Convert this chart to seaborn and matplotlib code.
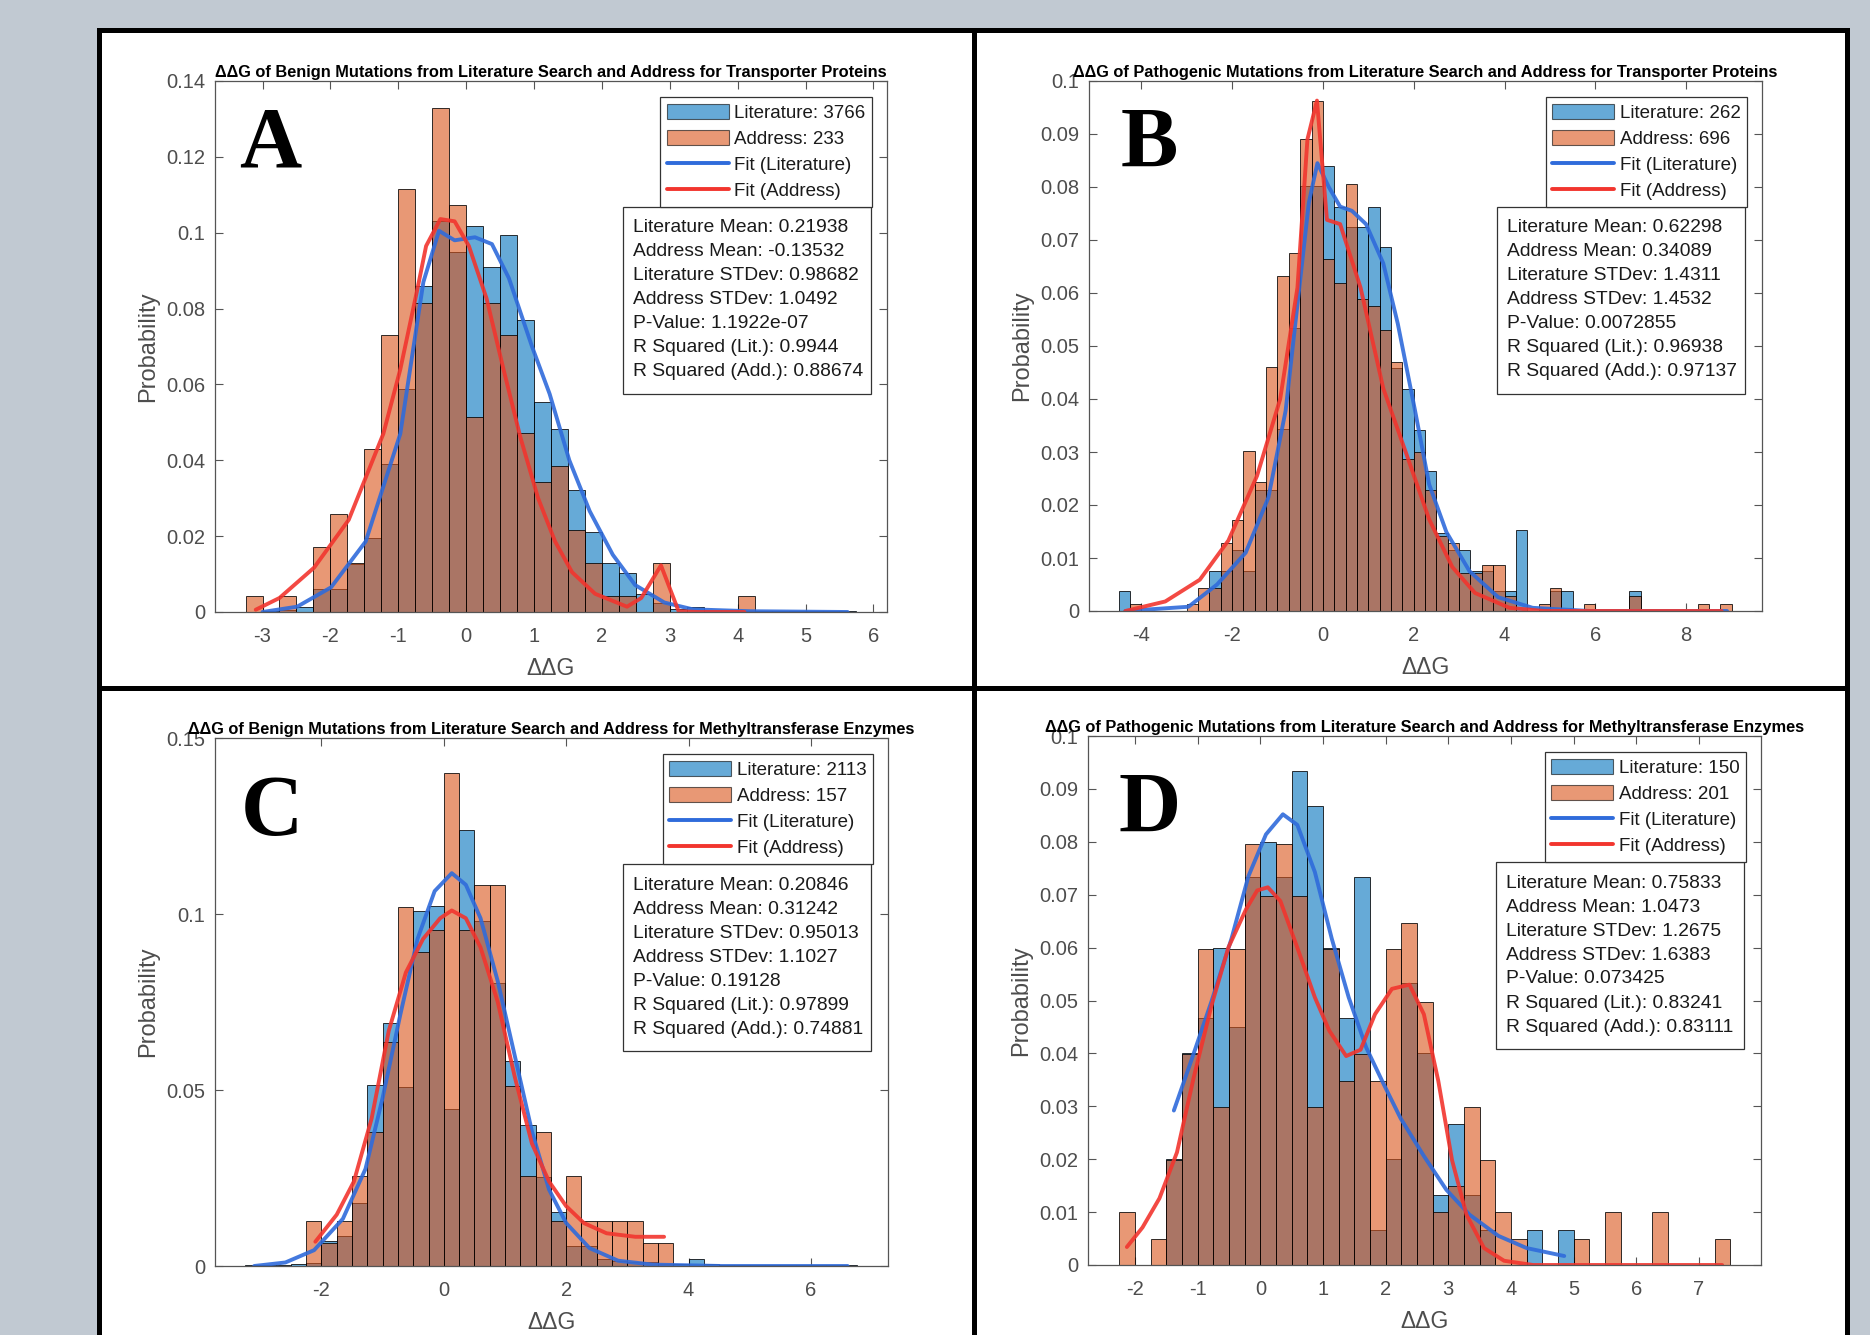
import numpy as np
import pandas as pd
import matplotlib
matplotlib.use("Agg")
import matplotlib.pyplot as plt
import seaborn as sns
from matplotlib.patches import Rectangle, Patch
from matplotlib.lines import Line2D
from matplotlib.ticker import FuncFormatter

# ---------------- data ----------------
bin_width = 0.25

# A: benign, transporter proteins (bins start at -3.25)
a_start = -3.25
a_lit = [0, 0.0003, 0.0005, 0.0013, 0.006, 0.006, 0.0126, 0.0195, 0.039, 0.0587,
         0.086, 0.103, 0.095, 0.1017, 0.091, 0.0994, 0.077, 0.0554, 0.0483, 0.0321,
         0.021, 0.013, 0.0102, 0.0048, 0.0025, 0.0008, 0.0014, 0.0005, 0.0005, 0.0003,
         0.0003, 0.0003, 0.0003, 0.0003, 0.0003, 0.0003]
a_add = [0.0043, 0, 0.0043, 0, 0.0172, 0.0258, 0.0129, 0.0429, 0.073, 0.1116,
         0.0815, 0.133, 0.1073, 0.0515, 0.0815, 0.073, 0.0472, 0.0343, 0.0386, 0.0215,
         0.0129, 0.0043, 0.0043, 0, 0.0129, 0, 0, 0, 0, 0.0043,
         0, 0, 0, 0, 0, 0]
a_fit_lit_x = [-3.0, -2.49, -1.99, -1.48, -0.97, -0.63, -0.40, -0.17, 0.13, 0.38, 0.63,
               0.97, 1.23, 1.52, 1.82, 2.16, 2.49, 2.92, 3.34, 4.19, 5.62]
a_fit_lit_y = [0, 0.0014, 0.0065, 0.0186, 0.047, 0.087, 0.1005, 0.098, 0.0988, 0.097, 0.088,
               0.070, 0.0575, 0.040, 0.0266, 0.0151, 0.0071, 0.0025, 0.0007, 0.0002, 0]
a_fit_add_x = [-3.1, -2.75, -2.24, -1.73, -1.22, -0.97, -0.72, -0.59, -0.38, -0.17, 0.04, 0.30,
               0.55, 0.80, 1.06, 1.31, 1.56, 1.90, 2.37, 2.58, 2.87, 3.13, 3.42, 4.1]
a_fit_add_y = [0.0006, 0.0037, 0.0117, 0.0243, 0.047, 0.064, 0.085, 0.0965, 0.1036, 0.103,
               0.0965, 0.0827, 0.064, 0.046, 0.030, 0.0186, 0.0105, 0.0048, 0.0014, 0.0037,
               0.0123, 0.0002, 0, 0]

# B: pathogenic, transporter proteins (bins start at -4.5)
b_start = -4.5
b_lit = [0.0038, 0, 0, 0, 0, 0, 0, 0, 0.0076, 0.0076,
         0.0115, 0.0076, 0.0229, 0.0229, 0.0344, 0.0534, 0.0802, 0.0802, 0.084, 0.0763,
         0.0724, 0.0724, 0.0763, 0.0687, 0.0458, 0.0419, 0.0342, 0.0264, 0.0147, 0.0115,
         0.0115, 0.0076, 0.0076, 0.0038, 0.0038, 0.0153, 0, 0, 0.0038, 0.0038,
         0, 0, 0, 0, 0, 0.0038, 0, 0, 0, 0,
         0, 0, 0, 0]
b_add = [0, 0.0014, 0, 0, 0, 0, 0.0014, 0.0043, 0.0043, 0.0129,
         0.0172, 0.0302, 0.0244, 0.046, 0.0632, 0.0675, 0.0891, 0.0963, 0.0664, 0.0619,
         0.0805, 0.0588, 0.0576, 0.0531, 0.047, 0.0287, 0.030, 0.0229, 0.0141, 0.0129,
         0.0072, 0.0072, 0.0086, 0.0086, 0.0028, 0, 0, 0.0014, 0.0043, 0,
         0, 0.0014, 0, 0, 0, 0.0028, 0, 0, 0, 0,
         0, 0.0014, 0, 0.0014]
b_fit_lit_x = [-4.35, -2.96, -2.33, -1.70, -1.20, -0.82, -0.50, -0.31, -0.12, 0.13, 0.38, 0.64,
               0.95, 1.33, 1.65, 2.03, 2.34, 2.72, 3.23, 3.86, 4.62, 5.88, 8.9]
b_fit_lit_y = [0, 0.0008, 0.005, 0.011, 0.0214, 0.0378, 0.0624, 0.077, 0.0845, 0.080, 0.0763,
               0.0755, 0.073, 0.0656, 0.0542, 0.0378, 0.0239, 0.0149, 0.0075, 0.0026, 0.0006, 0, 0]
b_fit_add_x = [-4.35, -3.47, -2.71, -2.08, -1.45, -0.94, -0.56, -0.34, -0.13, 0.09, 0.38, 0.83,
               1.33, 1.84, 2.34, 2.85, 3.35, 4.11, 4.87, 8.78]
b_fit_add_y = [0, 0.0018, 0.0059, 0.0133, 0.0255, 0.040, 0.061, 0.089, 0.0963, 0.0738, 0.073,
               0.061, 0.042, 0.0296, 0.0173, 0.0083, 0.0034, 0.0006, 0, 0]

# C: benign, methyltransferase enzymes (bins start at -3.25)
c_start = -3.25
c_lit = [0.0003, 0.0003, 0.0003, 0.0005, 0.0009, 0.0071, 0.0085, 0.018, 0.0514, 0.069,
         0.0508, 0.1008, 0.1024, 0.0446, 0.124, 0.098, 0.0804, 0.0581, 0.040, 0.0253,
         0.0152, 0.0057, 0.0057, 0.0021, 0.0015, 0.001, 0.001, 0.0005, 0.0005, 0.0021,
         0.0007, 0.0003, 0.0003, 0.0003, 0.0003, 0.0003, 0.0003, 0.0003, 0.0003, 0.0003]
c_add = [0, 0, 0, 0, 0.0127, 0.0064, 0.0127, 0.0255, 0.0382, 0.0637,
         0.1019, 0.0892, 0.0955, 0.1401, 0.0955, 0.1083, 0.1083, 0.051, 0.0255, 0.0382,
         0.0127, 0.0255, 0.0127, 0.0127, 0.0127, 0.0127, 0.0064, 0.0064, 0, 0,
         0, 0, 0, 0, 0, 0, 0, 0, 0, 0]
c_fit_lit_x = [-3.1, -2.59, -2.12, -1.65, -1.28, -1.0, -0.71, -0.43, -0.15, 0.13, 0.36, 0.60,
               0.88, 1.16, 1.44, 1.72, 2.0, 2.38, 2.85, 3.41, 4.54, 6.6]
c_fit_lit_y = [0, 0.001, 0.0045, 0.0134, 0.0276, 0.0478, 0.0715, 0.0929, 0.1065, 0.1116, 0.1083,
               0.0988, 0.081, 0.0597, 0.0383, 0.0217, 0.0122, 0.0051, 0.0015, 0.0004, 0, 0]
c_fit_add_x = [-2.10, -1.75, -1.47, -1.18, -0.90, -0.62, -0.34, -0.06, 0.13, 0.36, 0.60, 0.88,
               1.16, 1.44, 1.72, 2.0, 2.29, 2.66, 3.13, 3.60]
c_fit_add_y = [0.0069, 0.0146, 0.024, 0.0419, 0.0668, 0.0834, 0.0929, 0.0988, 0.101, 0.0988,
               0.0905, 0.0751, 0.0537, 0.0348, 0.024, 0.017, 0.0122, 0.0093, 0.0083, 0.0083]

# D: pathogenic, methyltransferase enzymes (bins start at -2.25)
d_start = -2.25
d_lit = [0, 0, 0, 0.02, 0.04, 0.0467, 0.06, 0.045, 0.0733, 0.08,
         0.0733, 0.0933, 0.0867, 0.06, 0.0467, 0.0733, 0.0067, 0.02, 0.0533, 0.04,
         0.0133, 0.0267, 0.0133, 0.0067, 0, 0, 0.0067, 0, 0.0067, 0,
         0, 0, 0, 0, 0, 0, 0, 0, 0]
d_add = [0.00995, 0, 0.005, 0.0199, 0.0398, 0.0597, 0.0299, 0.0597, 0.0796, 0.0697,
         0.0796, 0.0697, 0.0299, 0.0597, 0.0348, 0.0398, 0.0348, 0.0597, 0.0647, 0.0498,
         0.00995, 0.0149, 0.0299, 0.0199, 0.00995, 0.005, 0, 0, 0, 0.005,
         0, 0.00995, 0, 0, 0.00995, 0, 0, 0, 0.005]
d_fit_lit_x = [-1.38, -1.10, -0.78, -0.46, -0.19, 0.09, 0.36, 0.59, 0.87, 1.14, 1.41, 1.69,
               1.96, 2.24, 2.61, 2.97, 3.34, 3.80, 4.25, 4.85]
d_fit_lit_y = [0.0292, 0.0387, 0.0498, 0.0617, 0.0735, 0.0814, 0.0852, 0.0832, 0.0743, 0.0617,
               0.0506, 0.0411, 0.0344, 0.0277, 0.0206, 0.0142, 0.0095, 0.0055, 0.0032, 0.0017]
d_fit_add_x = [-2.13, -1.88, -1.61, -1.33, -1.06, -0.78, -0.51, -0.23, -0.05, 0.12, 0.32, 0.59,
               0.87, 1.10, 1.37, 1.60, 1.83, 2.10, 2.38, 2.61, 2.84, 3.06, 3.29, 3.57, 3.89,
               4.35, 7.37]
d_fit_add_y = [0.0034, 0.0071, 0.0126, 0.0213, 0.0356, 0.049, 0.060, 0.0672, 0.0708, 0.0714,
               0.0688, 0.060, 0.0506, 0.0443, 0.0395, 0.0407, 0.0474, 0.0522, 0.053, 0.0474,
               0.0348, 0.0198, 0.0095, 0.0032, 0.0008, 0, 0]

titles = [
    "ΔΔG of Benign Mutations from Literature Search and Address for Transporter Proteins",
    "ΔΔG of Pathogenic Mutations from Literature Search and Address for Transporter Proteins",
    "ΔΔG of Benign Mutations from Literature Search and Address for Methyltransferase Enzymes",
    "ΔΔG of Pathogenic Mutations from Literature Search and Address for Methyltransferase Enzymes",
]
letters = ["A", "B", "C", "D"]
n_lit = [3766, 262, 2113, 150]
n_add = [233, 696, 157, 201]
stat_names = ["Literature Mean", "Address Mean", "Literature STDev", "Address STDev",
              "P-Value", "R Squared (Lit.)", "R Squared (Add.)"]
stat_values = [
    ["0.21938", "-0.13532", "0.98682", "1.0492", "1.1922e-07", "0.9944", "0.88674"],
    ["0.62298", "0.34089", "1.4311", "1.4532", "0.0072855", "0.96938", "0.97137"],
    ["0.20846", "0.31242", "0.95013", "1.1027", "0.19128", "0.97899", "0.74881"],
    ["0.75833", "1.0473", "1.2675", "1.6383", "0.073425", "0.83241", "0.83111"],
]

# ---------------- style ----------------
W, H = 1870, 1335
sns.set_theme(style="ticks")
plt.rcParams["font.family"] = ["Liberation Sans", "DejaVu Sans"]

blue_bar = "#0072BD"
orange_bar = "#D95319"
blue_fit = "#2F6BDB"
red_fit = "#F2352E"
tick_col = "#4d4d4d"

fig = plt.figure(figsize=(W / 100, H / 100), dpi=100)
fig.patch.set_facecolor("#C1C9D2")

# white panel area with black frame and dividers (pixel coords -> figure fraction)
fig.add_artist(Rectangle((98.5 / W, -0.05), (1846.5 - 98.5) / W, (H - 29.5) / H + 0.05,
                         transform=fig.transFigure, facecolor="white", edgecolor="black",
                         linewidth=3.6, zorder=-2))
fig.add_artist(Line2D([973.5 / W, 973.5 / W], [0, (H - 29.5) / H], transform=fig.transFigure,
                      color="black", linewidth=3.6, zorder=-1))
fig.add_artist(Line2D([98.5 / W, 1846.5 / W], [(H - 687.5) / H] * 2, transform=fig.transFigure,
                      color="black", linewidth=3.6, zorder=-1))

# axes rectangles in pixels: left, top, right, bottom
axes_px = [(215, 81, 887, 612), (1089, 81, 1762, 611), (215, 738, 888, 1266), (1088, 736, 1761, 1265)]
xlims = [(-3.7, 6.2), (-5.15, 9.67), (-3.74, 7.26), (-2.75, 7.99)]
ylims = [0.14, 0.1, 0.15, 0.1]
xticks = [np.arange(-3, 7, 1), np.arange(-4, 10, 2), np.arange(-2, 7, 2), np.arange(-2, 8, 1)]
ysteps = [0.02, 0.01, 0.05, 0.01]
letter_px = [(24, 86), (32, 86), (26, 97), (31, 96)]

panels = [
    (a_start, a_lit, a_add, a_fit_lit_x, a_fit_lit_y, a_fit_add_x, a_fit_add_y),
    (b_start, b_lit, b_add, b_fit_lit_x, b_fit_lit_y, b_fit_add_x, b_fit_add_y),
    (c_start, c_lit, c_add, c_fit_lit_x, c_fit_lit_y, c_fit_add_x, c_fit_add_y),
    (d_start, d_lit, d_add, d_fit_lit_x, d_fit_lit_y, d_fit_add_x, d_fit_add_y),
]

fmt = FuncFormatter(lambda v, p: "%g" % round(v, 4))

for i, (start, lit, add, flx, fly, fax, fay) in enumerate(panels):
    l, t, r, b = axes_px[i]
    ax = fig.add_axes([l / W, 1 - b / H, (r - l) / W, (b - t) / H])
    wpx, hpx = r - l, b - t

    edges = start + bin_width * np.arange(len(lit) + 1)
    hist_df = pd.DataFrame({"center": edges[:-1] + bin_width / 2, "lit": lit, "add": add})
    sns.histplot(data=hist_df, x="center", weights="lit", bins=list(edges), color=blue_bar,
                 alpha=0.6, edgecolor=(0, 0, 0, 0.8), linewidth=0.7, ax=ax)
    sns.histplot(data=hist_df, x="center", weights="add", bins=list(edges), color=orange_bar,
                 alpha=0.6, edgecolor=(0, 0, 0, 0.8), linewidth=0.7, ax=ax)
    sns.lineplot(x=flx, y=fly, color=blue_fit, linewidth=2.8, alpha=0.9, ax=ax)
    sns.lineplot(x=fax, y=fay, color=red_fit, linewidth=2.8, alpha=0.9, ax=ax)

    ax.set_xlim(*xlims[i])
    ax.set_ylim(0, ylims[i])
    ax.set_xticks(xticks[i])
    ax.set_yticks(np.arange(0, ylims[i] + 1e-9, ysteps[i]))
    ax.yaxis.set_major_formatter(fmt)
    ax.xaxis.set_major_formatter(fmt)
    ax.tick_params(direction="in", top=True, right=True, length=6, width=0.8,
                   color="#555555", labelcolor=tick_col, labelsize=14.5)
    ax.tick_params(axis="x", pad=11)
    ax.tick_params(axis="y", pad=7)
    for s in ax.spines.values():
        s.set_color("#555555")
        s.set_linewidth(0.9)
    ax.set_xlabel("ΔΔG", fontsize=16.5, color=tick_col, labelpad=8)
    ax.set_ylabel("Probability", fontsize=17, color=tick_col, labelpad=5)
    ax.set_title(titles[i], fontsize=11.8, fontweight="bold", pad=3, color="black")

    # panel letter
    lx, ly = letter_px[i]
    ax.text(lx / wpx, 1 - ly / hpx, letters[i], transform=ax.transAxes, fontsize=62,
            fontweight="bold", family=["Liberation Serif", "DejaVu Serif"], va="baseline",
            ha="left", color="black")

    # legend
    handles = [
        Patch(facecolor=blue_bar, alpha=0.6, edgecolor="black", linewidth=0.8),
        Patch(facecolor=orange_bar, alpha=0.6, edgecolor="black", linewidth=0.8),
        Line2D([], [], color=blue_fit, linewidth=2.8),
        Line2D([], [], color=red_fit, linewidth=2.8),
    ]
    labels = [f"Literature: {n_lit[i]}", f"Address: {n_add[i]}", "Fit (Literature)", "Fit (Address)"]
    leg = ax.legend(handles, labels, loc="upper right",
                    bbox_to_anchor=(1 - 15 / wpx, 1 - 16 / hpx), borderaxespad=0,
                    fontsize=13.5, frameon=True, fancybox=False, framealpha=1,
                    edgecolor="#333333", handlelength=3.3, handleheight=0.9,
                    handletextpad=0.3, labelspacing=0.42, borderpad=0.35)
    leg.get_frame().set_linewidth(0.9)
    for txt in leg.get_texts():
        txt.set_color("#1a1a1a")

    # statistics box
    bx0, by0, bw, bh = 408, 126, 248, 187
    ax.add_patch(Rectangle((bx0 / wpx, 1 - (by0 + bh) / hpx), bw / wpx, bh / hpx,
                           transform=ax.transAxes, facecolor="white", edgecolor="#333333",
                           linewidth=0.9, zorder=5))
    for k, (name, val) in enumerate(zip(stat_names, stat_values[i])):
        ax.text(418 / wpx, 1 - (147 + 24 * k) / hpx, f"{name}: {val}", transform=ax.transAxes,
                fontsize=13.9, va="center", ha="left", color="#1a1a1a", zorder=6)

fig.savefig("out.png", dpi=100, facecolor=fig.get_facecolor())
